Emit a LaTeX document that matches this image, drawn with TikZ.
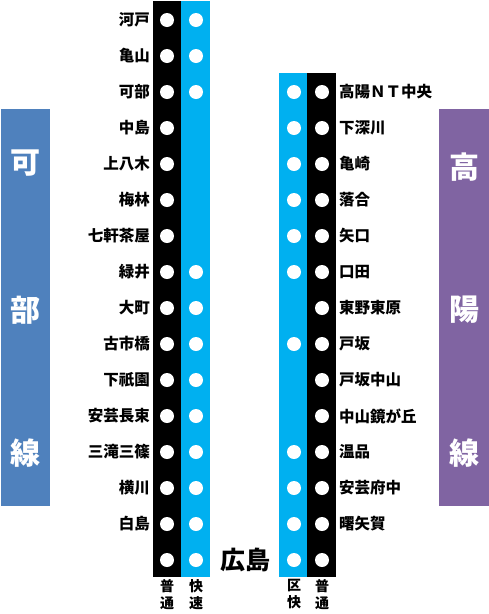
\documentclass[tikz,border=0pt]{standalone}
\usepackage{fontspec}
\setmainfont{Noto Sans CJK JP}
\definecolor{kcyan}{HTML}{00B0F0}
\definecolor{kblue}{HTML}{4F81BD}
\definecolor{kpurple}{HTML}{8064A2}
\tikzset{
  dot/.style={circle,fill=white,minimum size=14pt,inner sep=0pt},
  lbl/.style={inner sep=0pt,font=\fontsize{15.5pt}{16pt}\selectfont\bfseries},
  big/.style={inner sep=0pt,text=white,font=\fontsize{30pt}{30pt}\selectfont\bfseries},
  kind/.style={inner sep=0pt,align=center,font=\fontsize{14pt}{17pt}\selectfont\bfseries},
}
\begin{document}
\begin{tikzpicture}[x=1pt,y=-1pt]
\useasboundingbox (0,0) rectangle (489,614);
% line boxes
\fill[kblue] (1,109) rectangle (50,506);
\fill[kpurple] (439,109) rectangle (489,506);
\node[big] (k1) at (25,163) {可};
\node[big] (k2) at (25,310) {部};
\node[big] (k3) at (25,453) {線};
\node[big] (h1) at (464,167) {高};
\node[big] (h2) at (464,310) {陽};
\node[big] (h3) at (464,453) {線};
% columns
\fill[black] (153,1) rectangle (181,577);
\fill[kcyan] (181,1) rectangle (210,577);
\fill[kcyan] (279,73) rectangle (307,577);
\fill[black] (307,73) rectangle (336,577);
% left stations
\foreach \nm/\y/\b [count=\i] in {河戸/20/1,亀山/56/1,可部/92/1,中島/128/0,上八木/164/0,梅林/200/0,七軒茶屋/236/0,緑井/272/1,大町/308/1,古市橋/344/1,下祇園/380/1,安芸長束/416/1,三滝三篠/452/1,横川/488/1,白島/524/1}{
  \node[dot] (la\i) at (167,\y) {};
  \node[lbl,anchor=east] (ln\i) at (150,\y) {\nm};
  \ifnum\b=1 \node[dot] (lb\i) at (196,\y) {}; \fi
}
% right stations
\foreach \nm/\y/\b [count=\i] in {高陽ＮＴ中央/92/1,下深川/128/1,亀崎/164/1,落合/200/1,矢口/236/1,口田/272/1,東野東原/308/0,戸坂/344/1,戸坂中山/380/0,中山鏡が丘/416/0,温品/452/1,安芸府中/488/1,曙矢賀/524/1}{
  \node[dot] (ra\i) at (322,\y) {};
  \node[lbl,anchor=west] (rn\i) at (339,\y) {\nm};
  \ifnum\b=1 \node[dot] (rb\i) at (294,\y) {}; \fi
}
% Hiroshima
\node[dot] (hs1) at (167,560) {};
\node[dot] (hs2) at (196,560) {};
\node[dot] (hs3) at (294,560) {};
\node[dot] (hs4) at (322,560) {};
\node[inner sep=0pt,font=\fontsize{25pt}{25pt}\selectfont\bfseries] (hiro) at (245,560) {広島};
% kind labels
\node[kind,anchor=north] (t1) at (167,579) {普\\通};
\node[kind,anchor=north] (t2) at (196,579) {快\\速};
\node[kind,anchor=north] (t3) at (294,579) {区\\快};
\node[kind,anchor=north] (t4) at (322,579) {普\\通};
\end{tikzpicture}
\end{document}
